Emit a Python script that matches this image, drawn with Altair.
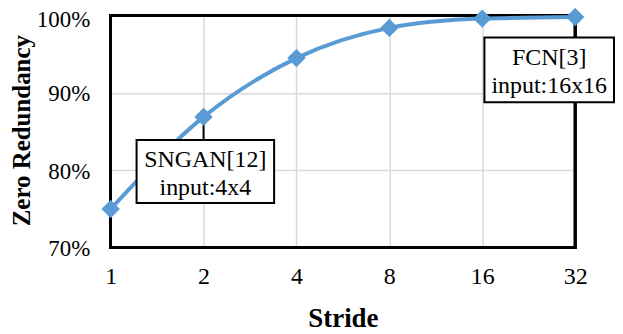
import altair as alt
import pandas as pd

strides = ["1", "2", "4", "8", "16", "32"]
zero_redundancy = [75.0, 86.9, 94.5, 98.4, 99.6, 99.8]
y_ticks = [70, 80, 90, 100]

sngan_lines = ["SNGAN[12]", "input:4x4"]
fcn_lines = ["FCN[3]", "input:16x16"]

W, H = 466, 233
FONT = "'Liberation Serif', 'Times New Roman', Times, serif"
BLUE = "#5B9BD5"

df = pd.DataFrame({"stride": strides, "zr": zero_redundancy})

x_enc = alt.X(
    "stride:N",
    sort=strides,
    scale=alt.Scale(type="point", padding=0),
    axis=alt.Axis(
        title="Stride",
        labelAngle=0,
        labelFont=FONT,
        labelFontSize=24,
        labelColor="black",
        labelPadding=17,
        domain=False,
        ticks=False,
        grid=True,
        gridColor="#d9d9d9",
        gridWidth=1.5,
        titleFont=FONT,
        titleFontSize=27,
        titleFontWeight="bold",
        titleColor="black",
        titleX=W / 2,
        titleY=71,
        titleBaseline="middle",
        titleAlign="center",
    ),
)
y_enc = alt.Y(
    "zr:Q",
    scale=alt.Scale(domain=[70, 100], nice=False, zero=False),
    axis=alt.Axis(
        title="Zero Redundancy",
        values=y_ticks,
        labelExpr="datum.value + '%'",
        labelFont=FONT,
        labelFontSize=23,
        labelColor="black",
        labelPadding=21,
        labelBaseline="middle",
        labelOffset={"condition": {"test": "datum.value == 100", "value": 4}, "value": 1},
        domain=False,
        ticks=False,
        grid=True,
        gridColor="#d9d9d9",
        gridWidth=1.5,
        titleFont=FONT,
        titleFontSize=25,
        titleFontWeight="bold",
        titleColor="black",
        titleAngle=270,
        titleX=-89,
        titleY=115,
        titleBaseline="middle",
        titleAlign="center",
    ),
)

base = alt.Chart(df)

frame = base.mark_rect(fill="transparent", stroke="black", strokeWidth=2.5).encode(
    x=alt.value(0), x2=alt.value(W), y=alt.value(0), y2=alt.value(H)
)

line = base.mark_line(color=BLUE, strokeWidth=4, interpolate="monotone").encode(
    x=x_enc, y=y_enc
)
points = base.mark_point(shape="diamond", filled=True, size=340, color=BLUE, opacity=1).encode(
    x=x_enc, y=y_enc
)

connector = base.transform_filter(alt.datum.stride == "2").mark_rule(
    color="black", strokeWidth=2
).encode(x=x_enc, y=y_enc, y2=alt.value(125))

ann = alt.Chart(pd.DataFrame({"a": [0]}))
sngan_box = ann.mark_rect(fill="white", stroke="black", strokeWidth=2).encode(
    x=alt.value(26), x2=alt.value(164), y=alt.value(125), y2=alt.value(188)
)
fcn_box = ann.mark_rect(fill="white", stroke="black", strokeWidth=2).encode(
    x=alt.value(375), x2=alt.value(505), y=alt.value(22), y2=alt.value(87)
)

def txt(s, x, y):
    return ann.mark_text(
        font=FONT, fontSize=24, color="black", align="center", baseline="middle"
    ).encode(x=alt.value(x), y=alt.value(y), text=alt.value(s))

texts = [
    txt(sngan_lines[0], 95, 145),
    txt(sngan_lines[1], 95, 173),
    txt(fcn_lines[0], 440, 43),
    txt(fcn_lines[1], 440, 71),
]

chart = alt.layer(
    frame, line, connector, points, sngan_box, fcn_box, *texts
).properties(
    width=W,
    height=H,
    autosize=alt.AutoSizeParams(type="none"),
    padding={"left": 103, "top": 7, "right": 40, "bottom": 86},
).configure_view(strokeWidth=0)

chart.save("out.html", embed_options={"renderer": "svg", "actions": False})
